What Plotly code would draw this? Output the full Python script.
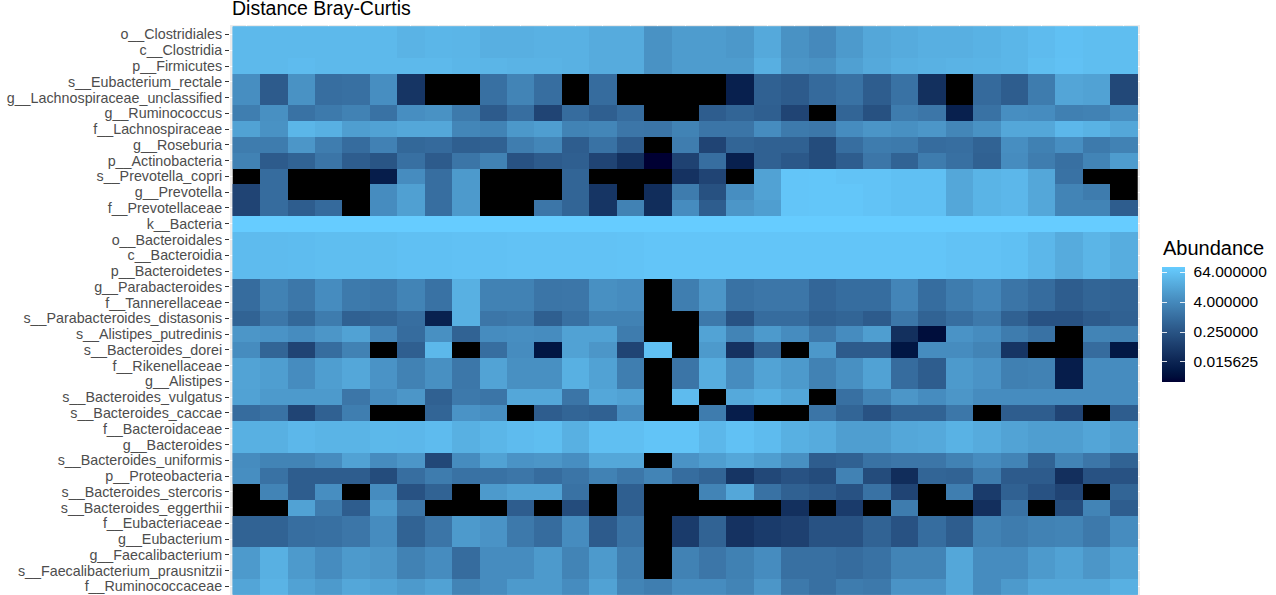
import numpy as np
import plotly.graph_objects as go

# ---------------- data (relative abundance, %; None = absent / drawn black) -------------
taxa = [
    "o__Clostridiales", "c__Clostridia", "p__Firmicutes", "s__Eubacterium_rectale",
    "g__Lachnospiraceae_unclassified", "g__Ruminococcus", "f__Lachnospiraceae", "g__Roseburia",
    "p__Actinobacteria", "s__Prevotella_copri", "g__Prevotella", "f__Prevotellaceae",
    "k__Bacteria", "o__Bacteroidales", "c__Bacteroidia", "p__Bacteroidetes",
    "g__Parabacteroides", "f__Tannerellaceae", "s__Parabacteroides_distasonis",
    "s__Alistipes_putredinis", "s__Bacteroides_dorei", "f__Rikenellaceae", "g__Alistipes",
    "s__Bacteroides_vulgatus", "s__Bacteroides_caccae", "f__Bacteroidaceae", "g__Bacteroides",
    "s__Bacteroides_uniformis", "p__Proteobacteria", "s__Bacteroides_stercoris",
    "s__Bacteroides_eggerthii", "f__Eubacteriaceae", "g__Eubacterium", "g__Faecalibacterium",
    "s__Faecalibacterium_prausnitzii", "f__Ruminococcaceae",
]
samples = [f"S{i + 1:02d}" for i in range(33)]

o_clostridiales = [40, 40, 40, 40, 40, 40, 30, 35, 33, 25, 25, 27, 27, 20, 20, 6, 10, 10, 8, 18, 6, 4, 9, 17, 20, 25, 25, 29, 35, 45, 55, 50, 50]
c_clostridia = [40, 40, 40, 40, 40, 40, 30, 35, 33, 25, 25, 27, 27, 20, 20, 6, 10, 10, 8, 18, 6, 4, 9, 17, 20, 25, 25, 29, 35, 45, 55, 50, 50]
p_firmicutes = [40, 40, 45, 40, 40, 40, 40, 40, 35, 33, 30, 30, 27, 20, 20, 6, 10, 10, 10, 25, 7, 6, 12, 18, 25, 27, 30, 32, 35, 50, 58, 50, 50]
s_eubacterium_rectale = [5, 0.35, 6, 1, 1.1, 5, 0.04, None, None, 1.1, 3, 1, None, 0.9, None, None, None, None, 0.012, 0.5, 0.35, 0.8, 1.2, 0.4, 1.2, 0.03, None, 0.8, 0.4, 2, 15, 13, 0.12]
g_lachnospiraceae_uncl = [5, 0.35, 6, 1, 1.1, 5, 0.04, None, None, 1.1, 3, 1, None, 0.9, None, None, None, None, 0.012, 0.5, 0.35, 0.8, 1.2, 0.4, 1.2, 0.03, None, 0.8, 0.4, 2, 15, 13, 0.12]
g_ruminococcus = [2.2, 5.5, 1.2, 1.8, 2.7, 1.2, 5, 6, 1.8, 0.35, 1, 0.1, 0.9, 0.45, 0.9, None, None, 0.4, 0.6, 0.45, 0.1, None, 0.6, 0.2, 2, 1.5, 0.012, 1.2, 5, 4.5, 2.4, 2.7, 5]
f_lachnospiraceae = [13, 6, 35, 26, 11, 13, 17, 17, 3.3, 2.8, 8, 11, 2.8, 3.3, 1.5, 1.4, 2.8, 1.4, 1.4, 4.5, 1.8, 1.6, 4.5, 7, 5.5, 7.5, 3.3, 6, 17, 17, 37, 28, 17]
g_roseburia = [2, 2, 7.5, 2.1, 0.9, 2.6, 0.7, 0.8, 0.45, 0.5, 2.1, 3.3, 0.4, 1.2, 0.35, None, 2.1, 0.1, 0.6, 0.5, 0.5, 0.15, 1.0, 2, 1.8, 0.9, 1.0, 0.55, 5, 2.5, 5, 1.8, 2.7]
p_actinobacteria = [2.7, 0.35, 0.55, 1.4, 0.4, 0.25, 1.1, 0.35, 1.4, 2.7, 0.22, 0.35, 0.45, 0.1, 0.03, 0.0024, 0.09, 1.0, 0.012, 0.5, 0.3, 0.15, 0.4, 1.5, 0.55, 2, 1.1, 0.5, 4.5, 2.1, 1.1, 3, 10]
s_prevotella_copri = [None, 0.9, None, None, None, 0.01, 4.5, 1.0, 9, None, None, None, 0.6, None, None, None, 0.035, 0.1, None, 13, 70, 75, 65, 65, 55, 55, 17, 32, 37, 17, 1.2, None, None]
g_prevotella = [0.1, 0.9, None, None, None, 4.5, 12, 1.0, 9, None, None, None, 0.6, 0.04, None, 0.025, 2, 0.2, 5, 13, 70, 75, 75, 65, 55, 55, 17, 32, 37, 17, 3, 2, None]
f_prevotellaceae = [0.1, 0.9, 0.4, 0.8, None, 4.5, 12, 1.0, 9, None, None, 1.5, 0.6, 0.04, 2.7, 0.025, 4.5, 0.4, 7.5, 11, 70, 75, 75, 65, 55, 55, 17, 32, 37, 17, 3, 3, 0.4]
k_bacteria = [100] * 33
o_bacteroidales = [45, 45, 47, 50, 50, 50, 55, 55, 58, 58, 62, 62, 62, 62, 66, 70, 70, 72, 72, 70, 72, 72, 72, 72, 72, 70, 63, 63, 55, 37, 20, 33, 22]
c_bacteroidia = [45, 45, 47, 50, 50, 50, 55, 55, 58, 58, 62, 62, 62, 62, 66, 70, 70, 72, 72, 70, 72, 72, 72, 72, 72, 70, 63, 63, 55, 37, 20, 33, 22]
p_bacteroidetes = [45, 45, 47, 50, 50, 50, 55, 55, 58, 58, 62, 62, 62, 62, 66, 70, 70, 72, 72, 70, 72, 72, 72, 72, 72, 70, 63, 63, 55, 37, 20, 33, 22]
g_parabacteroides = [0.9, 2.7, 1.6, 4.5, 1.8, 1.6, 3, 1.2, 26, 2.7, 2.7, 1.4, 1.5, 5.5, 4.5, None, 2.2, 7.5, 1.2, 1.5, 1.5, 0.65, 0.95, 0.95, 3.2, 0.95, 2, 3.2, 1.4, 0.9, 0.4, 0.6, 0.55]
f_tannerellaceae = [0.9, 2.7, 1.6, 4.5, 1.8, 1.6, 3, 1.2, 26, 2.7, 2.7, 1.4, 1.5, 5.5, 4.5, None, 2.2, 7.5, 1.2, 1.5, 1.5, 0.65, 0.95, 0.95, 3.2, 0.95, 2, 3.2, 1.4, 0.9, 0.4, 0.6, 0.55]
s_parabacteroides_distasonis = [0.55, 1.6, 0.7, 2, 0.5, 0.6, 1.0, 0.013, 26, 1.5, 1.7, 0.45, 1.1, 2.7, 2.7, None, None, 1.7, 0.22, 0.9, 0.9, 0.5, 0.6, 0.35, 1.6, 0.55, 1.0, 1.7, 0.5, 0.22, 0.22, 0.35, 0.5]
s_alistipes_putredinis = [7.5, 6.5, 4.5, 7.5, 13, 3.2, 0.9, 5.5, 0.55, 4.5, 5, 4.5, 13, 13, 2, None, None, 14, 3, 9, 4.5, 1.7, 4.5, 11, 0.03, 0.004, 6.5, 4.5, 2, 1.2, None, 3, 2.7]
s_bacteroides_dorei = [4.5, 0.6, 0.1, 0.95, 2.7, None, 0.45, 38, None, 1.0, 4.5, 0.006, 13, 7.5, 0.1, 55, None, 9, 0.035, 0.55, None, 8, 0.35, 0.35, 0.006, 4.5, 4.5, 3, 0.04, None, None, 0.9, 0.007]
f_rikenellaceae = [14, 11, 4.5, 11, 17, 6.5, 2.7, 5.5, 1.6, 14, 5.5, 5.5, 26, 13, 2.2, None, 1.4, 22, 4.5, 14, 9, 2.7, 5.5, 13, 0.9, 0.4, 9, 6.5, 2.4, 2.7, 0.01, 4.5, 4.5]
g_alistipes = [14, 11, 4.5, 11, 17, 6.5, 2.7, 5.5, 1.6, 14, 5.5, 5.5, 26, 13, 2.2, None, 1.4, 22, 4.5, 14, 9, 2.7, 5.5, 13, 0.9, 0.4, 9, 6.5, 2.4, 2.7, 0.01, 4.5, 4.5]
s_bacteroides_vulgatus = [13, 9, 9, 9, 1.5, 4.5, 7.5, 0.5, 1.7, 1.4, 17, 17, 1.4, 17, 13, None, 45, None, 18, 26, 16, None, 1.1, 3, 7.5, 4.5, 7.5, 4.5, 4.5, 4.5, 4.5, 4.5, 4.5]
s_bacteroides_caccae = [0.9, 1.2, 0.1, 0.5, 2.2, None, None, 0.6, 6.5, 5, None, 0.4, 0.6, 0.5, 4.5, None, None, 2, 0.01, None, None, 1.4, 0.6, 0.22, 0.55, 0.55, 1.6, None, 0.4, 0.4, 0.1, None, 0.4]
f_bacteroidaceae = [26, 26, 37, 32, 32, 38, 37, 45, 26, 34, 45, 50, 26, 53, 53, 68, 68, 37, 60, 45, 26, 20, 11, 11, 17, 18, 28, 20, 14, 11, 11, 15, 11]
g_bacteroides = [26, 26, 37, 32, 32, 38, 37, 45, 26, 34, 45, 50, 26, 53, 53, 68, 68, 37, 60, 45, 26, 20, 11, 11, 17, 18, 28, 20, 14, 11, 11, 15, 11]
s_bacteroides_uniformis = [4.5, 3, 3, 4.5, 13, 4.5, 7.5, 0.12, 4.5, 13, 6.5, 7.5, 5, 17, 17, None, 6.5, 11, 17, 11, 5.5, 0.4, 0.5, 1.2, 1.5, 1.5, 2.7, 4.5, 3, 0.55, 3, 1.5, 0.55]
p_proteobacteria = [5, 1.2, 0.4, 0.4, 0.4, 0.15, 1.0, 2, 1.2, 1.2, 1.5, 0.9, 1.4, 2.7, 1.6, 3, 0.95, 0.6, 0.04, 0.12, 0.22, 0.15, 2.7, 0.15, 0.025, 0.6, 0.55, 2, 0.35, 0.35, 0.028, 0.22, 0.22]
s_bacteroides_stercoris = [None, 3, 0.4, 5, None, 4.5, 0.22, 0.55, None, 9, 13, 13, 1.2, None, 0.45, None, None, 3, 17, 1.2, 0.5, 0.35, 0.22, 1.2, 0.1, None, 2.2, 0.06, 0.5, 0.22, 0.1, None, 0.6]
s_bacteroides_eggerthii = [None, None, 13, 2, 0.4, 9, 1.4, None, None, None, 0.4, None, 0.15, None, 0.45, None, None, None, None, None, 0.03, None, 0.06, None, 2, None, None, 0.028, 1.2, None, 0.15, 3, 0.4]
f_eubacteriaceae = [0.55, 0.55, 1.0, 1.1, 1.5, 4.5, 0.55, 1.4, 9, 6.5, 1.7, 0.9, 4.5, 0.35, 1.2, None, 0.06, 0.55, 0.035, 0.06, 0.08, 0.22, 0.22, 0.55, 0.22, 0.95, 0.4, 2.7, 2, 2.7, 3, 1.7, 4.5]
g_eubacterium = [0.55, 0.55, 1.0, 1.1, 1.5, 4.5, 0.55, 1.4, 9, 6.5, 1.7, 0.9, 4.5, 0.35, 1.2, None, 0.06, 0.55, 0.035, 0.06, 0.08, 0.22, 0.22, 0.55, 0.22, 0.95, 0.4, 2.7, 2, 2.7, 3, 1.7, 4.5]
g_faecalibacterium = [9, 26, 9, 4.5, 9, 7.5, 2.7, 4.5, 0.9, 4.5, 4.5, 9, 3, 9, 2.2, None, 2.7, 1.5, 2.5, 4.5, 1.1, 1.1, 0.9, 1.2, 3, 3, 17, 4.5, 4.5, 9, 13, 7.5, 13]
s_faecalibacterium_prausnitzii = [9, 26, 9, 4.5, 9, 7.5, 2.7, 4.5, 0.9, 4.5, 4.5, 9, 3, 9, 2.2, None, 2.7, 1.5, 2.5, 4.5, 1.1, 1.1, 0.9, 1.2, 3, 3, 17, 4.5, 4.5, 9, 13, 7.5, 13]
f_ruminococcaceae = [15, 30, 13, 9, 17, 13, 9, 13, 3, 4.5, 9, 9, 4.5, 13, 3, 2.2, 4.5, 4.5, 3, 7.5, 1.7, 1.1, 2, 1.7, 6.5, 6.5, 17, 4.5, 9, 17, 17, 17, 26]

legend_breaks = [0.015625, 0.25, 4.0, 64.0]
legend_labels = ["0.015625", "0.250000", "4.000000", "64.000000"]

rows = [
    o_clostridiales, c_clostridia, p_firmicutes, s_eubacterium_rectale, g_lachnospiraceae_uncl,
    g_ruminococcus, f_lachnospiraceae, g_roseburia, p_actinobacteria, s_prevotella_copri,
    g_prevotella, f_prevotellaceae, k_bacteria, o_bacteroidales, c_bacteroidia, p_bacteroidetes,
    g_parabacteroides, f_tannerellaceae, s_parabacteroides_distasonis, s_alistipes_putredinis,
    s_bacteroides_dorei, f_rikenellaceae, g_alistipes, s_bacteroides_vulgatus,
    s_bacteroides_caccae, f_bacteroidaceae, g_bacteroides, s_bacteroides_uniformis,
    p_proteobacteria, s_bacteroides_stercoris, s_bacteroides_eggerthii, f_eubacteriaceae,
    g_eubacterium, g_faecalibacterium, s_faecalibacterium_prausnitzii, f_ruminococcaceae,
]

# ---------------- transforms ------------------------------------------------------------
vals = np.array([[np.nan if v is None else float(v) for v in r] for r in rows])
logz = np.log(vals) / np.log(4)          # log base-4 scale, as in the legend
na_mask = np.where(np.isnan(vals), 1.0, np.nan)
zmin, zmax = np.nanmin(logz), np.nanmax(logz)
tickvals = np.log(legend_breaks) / np.log(4)


# ggplot-like gradient (#000033 -> #66CCFF) interpolated in CIE Lab
def _hex(h):
    return np.array([int(h[i:i + 2], 16) for i in (1, 3, 5)]) / 255.0


def _to_lab(rgb):
    lin = np.where(rgb <= 0.04045, rgb / 12.92, ((rgb + 0.055) / 1.055) ** 2.4)
    M = np.array([[0.4124, 0.3576, 0.1805], [0.2126, 0.7152, 0.0722], [0.0193, 0.1192, 0.9505]])
    xyz = M @ lin / np.array([0.95047, 1.0, 1.08883])
    f = np.where(xyz > 0.008856, np.cbrt(xyz), 7.787 * xyz + 16 / 116)
    return np.array([116 * f[1] - 16, 500 * (f[0] - f[1]), 200 * (f[1] - f[2])])


def _from_lab(lab):
    fy = (lab[0] + 16) / 116
    fx = fy + lab[1] / 500
    fz = fy - lab[2] / 200
    f = np.array([fx, fy, fz])
    xyz = np.where(f ** 3 > 0.008856, f ** 3, (f - 16 / 116) / 7.787) * np.array([0.95047, 1.0, 1.08883])
    Minv = np.array([[3.2406, -1.5372, -0.4986], [-0.9689, 1.8758, 0.0415], [0.0557, -0.2040, 1.0570]])
    lin = np.clip(Minv @ xyz, 0, 1)
    rgb = np.where(lin <= 0.0031308, 12.92 * lin, 1.055 * lin ** (1 / 2.4) - 0.055)
    return "rgb(%d,%d,%d)" % tuple(np.round(np.clip(rgb, 0, 1) * 255))


lo, hi = _to_lab(_hex("#000033")), _to_lab(_hex("#66CCFF"))
colorscale = [[t, _from_lab(lo + (hi - lo) * t)] for t in np.linspace(0, 1, 21)]

FONT = "Liberation Sans, Arial, Helvetica, sans-serif"
W, H = 1276, 595
PL, PR, PT, PB = 230, 1140, 25, 595          # plot-area edges in pixels
cb_left, cb_top, cb_bottom = 1162, 268, 383  # colour bar box in pixels
cb_shift = 16                                # plotly places the bar this much higher
cb_w = 23


def cbar(thickness, **kw):
    base = dict(
        tickvals=tickvals, thickness=thickness, lenmode="pixels", len=cb_bottom - cb_top,
        outlinewidth=0, xref="container", yref="container", x=cb_left / W, xanchor="left",
        y=(H - cb_bottom - cb_shift) / H, yanchor="bottom", xpad=0, ypad=0,
    )
    base.update(kw)
    return base


fig = go.Figure()
# main layer with colour bar + labels
fig.add_trace(go.Heatmap(
    z=logz, x=samples, y=taxa, colorscale=colorscale, zmin=zmin, zmax=zmax,
    hovertemplate="%{y}<br>%{x}<extra></extra>",
    colorbar=cbar(cb_w, ticktext=legend_labels,
                  tickfont=dict(family=FONT, size=15.5, color="black"),
                  ticks="outside", ticklen=6, tickcolor="rgba(0,0,0,0)"),
))
# identical overlays that only add ggplot-style white tick marks inside the bar
fig.add_trace(go.Heatmap(
    z=logz, x=samples, y=taxa, colorscale=colorscale, zmin=zmin, zmax=zmax, hoverinfo="skip",
    colorbar=cbar(cb_w, ticks="inside", ticklen=5, tickwidth=1,
                  tickcolor="rgba(255,255,255,0.85)", showticklabels=False),
))
fig.add_trace(go.Heatmap(
    z=logz, x=samples, y=taxa, colorscale=colorscale, zmin=zmin, zmax=zmax, hoverinfo="skip",
    colorbar=cbar(5, ticks="inside", ticklen=5, tickwidth=1,
                  tickcolor="rgba(255,255,255,0.85)", showticklabels=False),
))
fig.add_trace(go.Heatmap(
    z=na_mask, x=samples, y=taxa, colorscale=[[0, "black"], [1, "black"]],
    showscale=False, hoverinfo="skip",
))

fig.update_layout(
    width=W, height=H,
    margin=dict(l=PL, r=W - PR, t=PT, b=H - PB, autoexpand=False),
    paper_bgcolor="white", plot_bgcolor="#EBEBEB",
    font=dict(family=FONT),
    xaxis=dict(type="category", range=[-0.6, len(samples) - 0.4], showticklabels=False,
               ticks="", showgrid=True, gridcolor="white", gridwidth=1, zeroline=False,
               automargin=False, fixedrange=True),
    yaxis=dict(type="category", categoryarray=taxa, categoryorder="array",
               tickmode="array", tickvals=taxa, ticktext=taxa,
               range=[len(taxa) - 0.46, -0.6], showgrid=True, gridcolor="white", gridwidth=1,
               ticks="outside", ticklen=4, tickwidth=1, tickcolor="#333333",
               tickfont=dict(family=FONT, size=14.3, color="#4D4D4D"), zeroline=False,
               automargin=False),
    annotations=[
        dict(text="Distance Bray-Curtis", xref="paper", yref="paper", x=0, y=1,
             xanchor="left", yanchor="bottom", yshift=4, showarrow=False,
             font=dict(family=FONT, size=19.5, color="black")),
        dict(text="Abundance", xref="paper", yref="paper",
             x=(cb_left - PL) / (PR - PL), y=(PB - 248) / (PB - PT),
             xanchor="left", yanchor="middle", showarrow=False, xshift=-1,
             font=dict(family=FONT, size=20, color="black")),
    ],
)

fig.write_html(
    "out.html",
    config={"displayModeBar": False},
    post_script="document.body.style.margin='0';document.body.style.overflow='hidden';",
)
